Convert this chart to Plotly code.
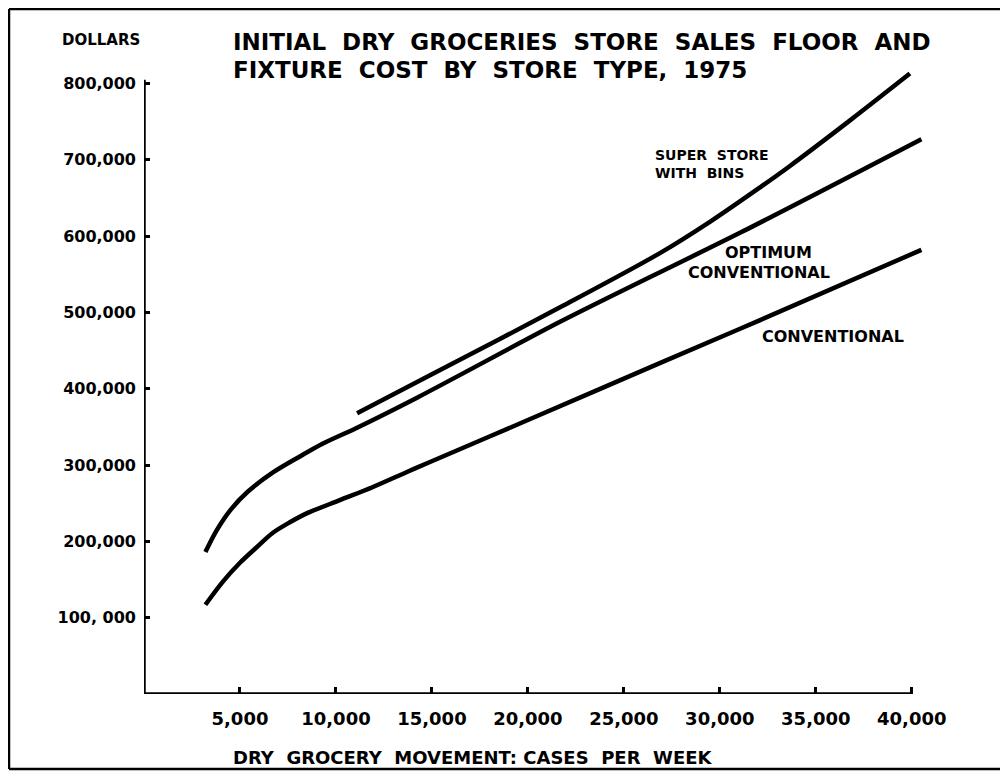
import plotly.graph_objects as go

# ---- data ----
opt_x = [3200, 3800, 4500, 5400, 6700, 8100, 9300, 11100, 14200, 21700, 26500, 31100, 40500]
opt_y = [186000, 215000, 241000, 265000, 290000, 311000, 328000, 349000, 388000, 488000,
         548000, 605000, 727000]

conv_x = [3200, 4100, 5000, 5900, 6700, 7600, 8500, 10200, 11900, 13700, 14900,
          20000, 26900, 32100, 40500]
conv_y = [117000, 147000, 172000, 193000, 211000, 225000, 237000, 254000, 271000, 291000, 304000,
          359000, 434000, 490000, 582000]

super_x = [11100, 15000, 21700, 26900, 29500, 32100, 33600, 36800, 39900]
super_y = [368000, 419000, 507000, 578000, 619000, 664000, 691000, 752000, 813000]

x_tick_vals = [5000, 10000, 15000, 20000, 25000, 30000, 35000, 40000]
x_tick_text = ["5,000", "10,000", "15,000", "20,000", "25,000", "30,000", "35,000", "40,000"]
y_tick_vals = [100000, 200000, 300000, 400000, 500000, 600000, 700000, 800000]
y_tick_text = ["100, 000", "200,000", "300,000", "400,000", "500,000", "600,000", "700,000", "800,000"]

title_l1 = "INITIAL\u00a0\u00a0DRY\u00a0\u00a0GROCERIES\u00a0\u00a0STORE\u00a0\u00a0SALES\u00a0\u00a0FLOOR\u00a0\u00a0AND"
title_l2 = "FIXTURE\u00a0\u00a0COST\u00a0\u00a0BY\u00a0\u00a0STORE\u00a0\u00a0TYPE,\u00a0\u00a01975"
x_title = "DRY\u00a0\u00a0GROCERY\u00a0\u00a0MOVEMENT:\u00a0CASES\u00a0\u00a0PER\u00a0\u00a0WEEK"
y_title = "DOLLARS"

# ---- layout geometry ----
# The page body has an 8px margin, so the figure is drawn 8px smaller and
# every reference pixel position is shifted by OFF.
OFF = 8
W, H = 1000, 763
ML = 144 - OFF
MT = 53 - OFF
PW = 787
PB = 694 - OFF            # bottom of plot area in figure pixels
MB = H - PB
MR = W - ML - PW
PH = PB - MT

def px(xp):
    """reference x pixel -> paper coordinate"""
    return (xp - OFF - ML) / PW

def py(yp):
    """reference y pixel -> paper coordinate"""
    return (PB - (yp - OFF)) / PH

FONT = "DejaVu Sans"
LW = 4.5

fig = go.Figure()
for xs, ys in [(opt_x, opt_y), (conv_x, conv_y), (super_x, super_y)]:
    fig.add_trace(go.Scatter(x=xs, y=ys, mode="lines",
                             line=dict(color="black", width=LW, shape="spline", smoothing=0.9),
                             showlegend=False, hoverinfo="skip"))

fig.update_layout(
    width=W, height=H,
    margin=dict(l=ML, r=MR, t=MT, b=MB, pad=0),
    paper_bgcolor="white", plot_bgcolor="white",
    showlegend=False,
    xaxis=dict(range=[0, 41000], showgrid=False, zeroline=False, showline=False,
               tickvals=x_tick_vals, ticktext=x_tick_text, ticks="inside", ticklen=7,
               tickwidth=3, tickcolor="black", ticklabelstandoff=12,
               tickfont=dict(family=FONT, size=18, color="black", weight="bold")),
    yaxis=dict(range=[0, 840000], showgrid=False, zeroline=False, showline=False,
               tickvals=y_tick_vals, ticktext=y_tick_text, ticks="inside", ticklen=6,
               tickwidth=3, tickcolor="black", ticklabelstandoff=7,
               tickfont=dict(family=FONT, size=16, color="black", weight="bold")),
)

# axis lines
fig.add_shape(type="line", xref="x", yref="y", x0=0, x1=40000, y0=0, y1=0,
              line=dict(color="black", width=3.5))
fig.add_shape(type="line", xref="x", yref="y", x0=0, x1=0, y0=0, y1=805000,
              line=dict(color="black", width=3.5))

# frame (top, left, bottom)
for x0, y0, x1, y1 in [(9, 9, 1008, 9), (9, 9, 9, 769), (9, 769, 1008, 769)]:
    fig.add_shape(type="line", xref="paper", yref="paper",
                  x0=px(x0), y0=py(y0), x1=px(x1), y1=py(y1),
                  line=dict(color="black", width=2.5))

def ann(text, x, y, size, xanchor="center", align="center"):
    fig.add_annotation(text=text, xref="paper", yref="paper", x=px(x), y=py(y),
                       xanchor=xanchor, yanchor="middle", align=align, showarrow=False,
                       font=dict(family=FONT, size=size, color="black", weight="bold"))

ann(title_l1, 231, 42, 23, xanchor="left", align="left")
ann(title_l2, 231, 70, 23, xanchor="left", align="left")
ann(y_title, 101, 40, 15)
ann(x_title, 231, 757, 18, xanchor="left", align="left")
ann("SUPER\u00a0\u00a0STORE", 653, 155, 14, xanchor="left", align="left")
ann("WITH\u00a0\u00a0BINS", 653, 173, 14, xanchor="left", align="left")
ann("OPTIMUM", 768, 252, 16)
ann("CONVENTIONAL", 759, 272, 16)
ann("CONVENTIONAL", 833, 336, 16)

fig.write_html("out.html")
